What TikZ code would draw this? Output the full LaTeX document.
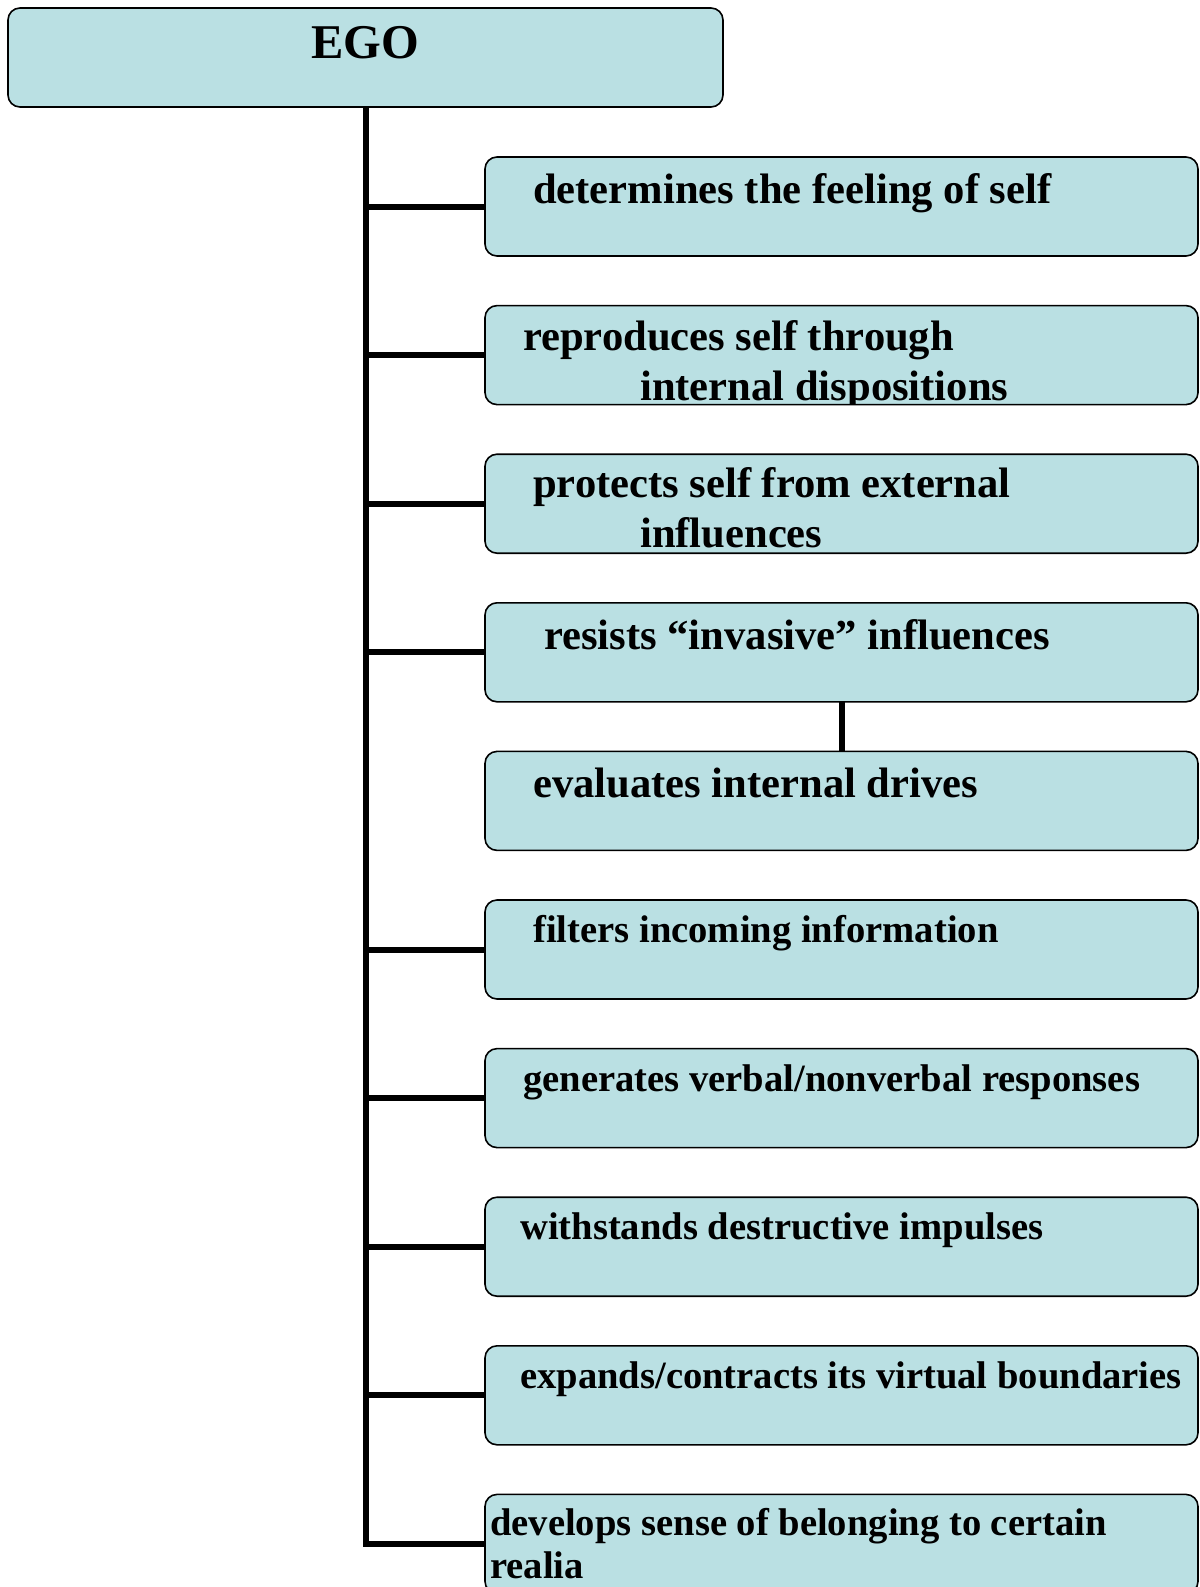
\documentclass[tikz,border=0pt]{standalone}
\usepackage{fontspec}
\setmainfont{Liberation Serif}
\definecolor{boxfill}{RGB}{186,224,227}
\begin{document}
\begin{tikzpicture}[x=1pt,y=-1pt,
  box/.style={draw=black, line width=1.6pt, fill=boxfill, rounded corners=12pt,
    minimum width=713pt, minimum height=99pt, anchor=north west, inner sep=0pt, outer sep=0pt},
  lbl/.style={anchor=base west, inner sep=0pt, font=\bfseries\fontsize{42.6}{50}\selectfont},
  lbls/.style={anchor=base west, inner sep=0pt, font=\bfseries\fontsize{38.6}{43}\selectfont},
  link/.style={line width=6pt, draw=black}]
\clip (0,0) rectangle (1199,1587);
\fill[white] (0,0) rectangle (1199,1587);
% main box
\node[box, minimum width=715pt] (ego) at (8,8) {};
\node[anchor=base, inner sep=0pt, font=\bfseries\fontsize{48.5}{55}\selectfont] (egot) at (365.5,59) {EGO};
% right boxes
\node[box] (b1) at (485,157) {};
\node[box] (b2) at (485,305.6) {};
\node[box] (b3) at (485,454.2) {};
\node[box] (b4) at (485,602.8) {};
\node[box] (b5) at (485,751.4) {};
\node[box] (b6) at (485,900) {};
\node[box] (b7) at (485,1048.6) {};
\node[box] (b8) at (485,1197.2) {};
\node[box] (b9) at (485,1345.8) {};
\node[box] (b10) at (485,1494.4) {};
% connectors
\draw[link] (ego.south) |- (b10.west);
\foreach \b in {b1,b2,b3,b4,b6,b7,b8,b9}{
  \draw[link] (ego.south |- \b.west) -- (\b.west);
}
\draw[link] (b4.south) -- (b5.north);
% texts
\node[lbl] (t1) at (533,203) {determines the feeling of self};
\begin{scope}
\clip[rounded corners=12pt] (b2.north west) rectangle (b2.south east);
\node[lbl] (t2a) at (523,350) {reproduces self through};
\node[lbl] (t2b) at (640,400) {internal dispositions};
\end{scope}
\node[lbl] (t3a) at (533,497) {protects self from external};
\node[lbl] (t3b) at (640,547) {influences};
\node[lbl] (t4) at (544,649) {resists “invasive” influences};
\node[lbl] (t5) at (533,797) {evaluates internal drives};
\node[lbls] (t6) at (533,942) {filters incoming information};
\node[lbls] (t7) at (523,1091) {generates verbal/nonverbal responses};
\node[lbls] (t8) at (520,1239) {withstands destructive impulses};
\node[lbls] (t9) at (520,1388) {expands/contracts its virtual boundaries};
\node[lbls] (t10a) at (490,1535) {develops sense of belonging to certain};
\node[lbls] (t10b) at (490,1578) {realia};
\end{tikzpicture}
\end{document}
